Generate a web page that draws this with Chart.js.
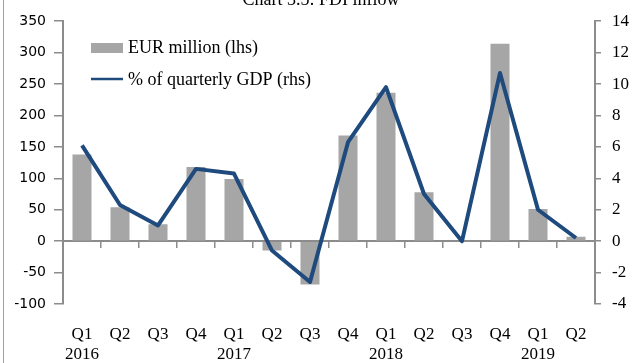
<!DOCTYPE html>
<html>
<head>
<meta charset="utf-8">
<script src="https://cdn.jsdelivr.net/npm/chart.js@4"></script>
<style>
  body { margin: 0; background: #fff; }
  #wrap { position: relative; width: 642px; height: 363px; overflow: hidden; }
  #edge { position: absolute; left: 3px; top: 0; width: 1px; height: 363px; background: #a0a0a0; }
  #title { position: absolute; left: 0; top: -10px; width: 642px; text-align: center;
    font: 18px "Liberation Serif", serif; line-height: 18px; color: #000; }
</style>
</head>
<body>
<div id="wrap">
  <canvas id="fdiChart" width="642" height="363"></canvas>
  <div id="edge"></div>
  <div id="title">Chart 3.5: FDI inflow</div>
</div>
<script>
// Quarter labels, with the year under each Q1
const quarters = ["Q1", "Q2", "Q3", "Q4", "Q1", "Q2", "Q3", "Q4", "Q1", "Q2", "Q3", "Q4", "Q1", "Q2"];
const years = ["2016", "", "", "", "2017", "", "", "", "2018", "", "", "", "2019", ""];

// FDI inflow, EUR million (left axis)
const eurMillion = [138, 54, 27, 118, 99, -15, -69, 168, 236, 78, 0, 314, 51, 7];
// FDI inflow as % of quarterly GDP (right axis)
const gdpShare = [6.1, 2.3, 1.0, 4.6, 4.3, -0.6, -2.6, 6.3, 9.8, 3.0, 0.0, 10.7, 2.0, 0.2];

const barColor = "#a6a6a6";
const lineColor = "#1f4a7e";
const axisColor = "#8c8c8c";
const serif = "'Liberation Serif', serif";

// Legend drawn inside the plot, top left
const innerLegend = {
  id: "innerLegend",
  afterDatasetsDraw(chart) {
    const ctx = chart.ctx;
    const x = chart.chartArea.left + 28;
    ctx.save();
    ctx.fillStyle = barColor;
    ctx.fillRect(x, 43, 32, 10);
    ctx.strokeStyle = lineColor;
    ctx.lineWidth = 2.5;
    ctx.beginPath();
    ctx.moveTo(x, 79);
    ctx.lineTo(x + 32, 79);
    ctx.stroke();
    ctx.fillStyle = "#000";
    ctx.font = "18px " + serif;
    ctx.textBaseline = "middle";
    ctx.fillText(chart.data.datasets[0].label, x + 37, 48);
    ctx.fillText(chart.data.datasets[1].label, x + 37, 80);
    ctx.restore();
  }
};

new Chart(document.getElementById("fdiChart"), {
  type: "bar",
  data: {
    labels: quarters.map((q, i) => [q, years[i]]),
    datasets: [
      {
        label: "EUR million (lhs)",
        data: eurMillion,
        backgroundColor: barColor,
        yAxisID: "y",
        order: 2,
        categoryPercentage: 1,
        barPercentage: 0.5
      },
      {
        type: "line",
        label: "% of quarterly GDP (rhs)",
        data: gdpShare,
        borderColor: lineColor,
        borderWidth: 4,
        pointRadius: 0,
        tension: 0,
        borderJoinStyle: "round",
        yAxisID: "y2",
        order: 1
      }
    ]
  },
  options: {
    responsive: false,
    animation: false,
    layout: { padding: { top: 20, left: 0, right: 0, bottom: 0 } },
    plugins: { legend: { display: false }, tooltip: { enabled: false } },
    scales: {
      x: {
        offset: true,
        grid: { display: false },
        border: { display: false },
        ticks: { color: "#000", font: { family: serif, size: 17 }, padding: 12, maxRotation: 0 },
        afterFit(scale) { scale.height = 59; }
      },
      x2: {
        type: "category",
        position: { y: 0 },
        offset: true,
        grid: { offset: true, drawOnChartArea: false, tickLength: 6, color: axisColor, lineWidth: 1.5 },
        border: { color: axisColor, width: 2 },
        ticks: { display: false },
        afterFit(scale) { scale.height = 0; }
      },
      y: {
        position: "left",
        min: -100,
        max: 350,
        grid: { drawOnChartArea: false, tickLength: 9, color: axisColor, lineWidth: 1.5 },
        border: { color: axisColor, width: 2 },
        ticks: { stepSize: 50, color: "#000", font: { family: "'DejaVu Sans', sans-serif", size: 14 }, padding: 8 },
        afterFit(scale) { scale.width = 63; }
      },
      y2: {
        position: "right",
        min: -4,
        max: 14,
        grid: { drawOnChartArea: false, tickLength: 6, color: axisColor, lineWidth: 1.5 },
        border: { color: axisColor, width: 2 },
        ticks: { stepSize: 2, color: "#000", font: { family: serif, size: 17 }, padding: 11 },
        afterFit(scale) { scale.width = 47; }
      }
    }
  },
  plugins: [innerLegend]
});
</script>
</body>
</html>
